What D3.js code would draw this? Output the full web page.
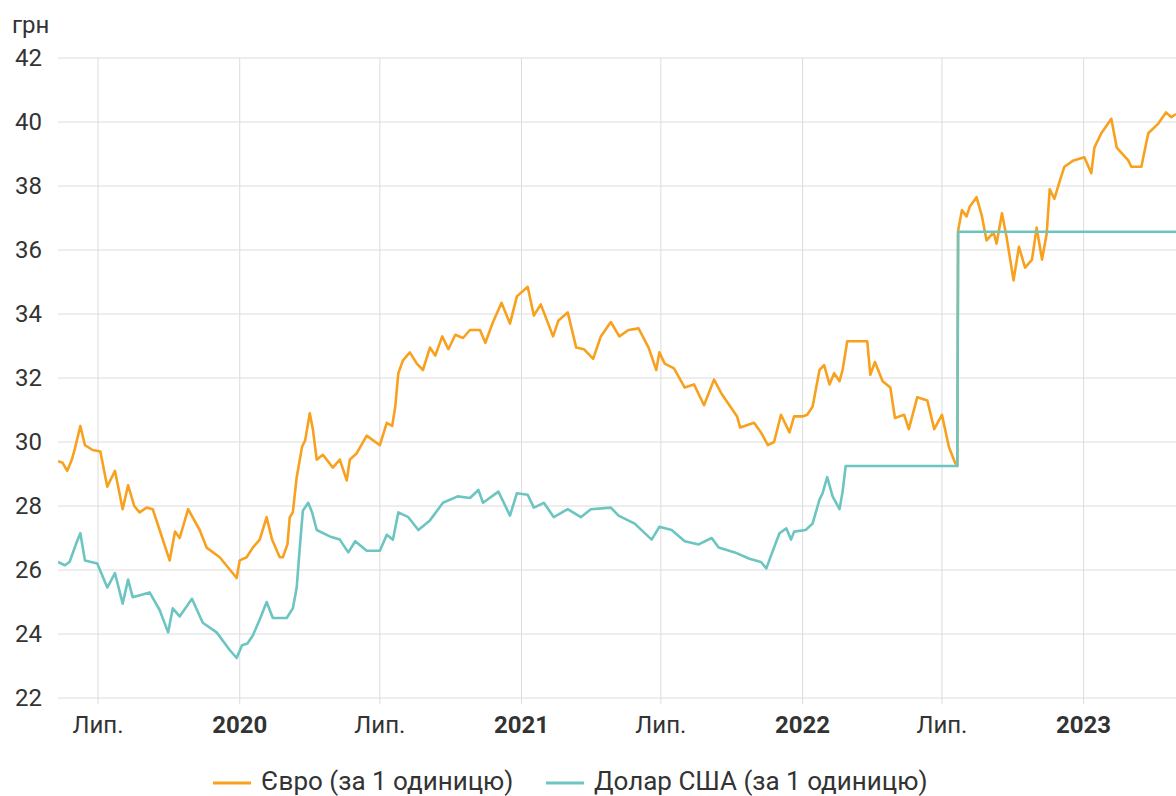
<!DOCTYPE html>
<html>
<head>
<meta charset="utf-8">
<script src="https://cdn.jsdelivr.net/npm/d3@7"></script>
<style>
  body { margin: 0; background: #fff; }
  svg { display: block; font-family: Roboto, "Noto Sans", sans-serif; }
</style>
</head>
<body>
<div id="container"></div>
<script>
const euroSeries = [
    ['2019-05-10', 29.4], ['2019-05-16', 29.35], ['2019-05-22', 29.1], ['2019-05-28', 29.45],
    ['2019-06-01', 29.8], ['2019-06-08', 30.5], ['2019-06-14', 29.9], ['2019-06-24', 29.75],
    ['2019-07-04', 29.7], ['2019-07-13', 28.6], ['2019-07-23', 29.1], ['2019-08-02', 27.9],
    ['2019-08-09', 28.65], ['2019-08-17', 28.0], ['2019-08-24', 27.8], ['2019-09-02', 27.95],
    ['2019-09-10', 27.9], ['2019-09-19', 27.25], ['2019-10-02', 26.3], ['2019-10-09', 27.2],
    ['2019-10-15', 27.0], ['2019-10-26', 27.9], ['2019-11-10', 27.25], ['2019-11-19', 26.7],
    ['2019-12-06', 26.4], ['2019-12-23', 25.9], ['2019-12-28', 25.75], ['2020-01-01', 26.3],
    ['2020-01-10', 26.4], ['2020-01-18', 26.7], ['2020-01-27', 26.95], ['2020-02-05', 27.65],
    ['2020-02-12', 26.95], ['2020-02-22', 26.4], ['2020-02-26', 26.4], ['2020-03-03', 26.8],
    ['2020-03-06', 27.65], ['2020-03-10', 27.8], ['2020-03-15', 28.9], ['2020-03-22', 29.85],
    ['2020-03-26', 30.05], ['2020-04-01', 30.9], ['2020-04-05', 30.4], ['2020-04-10', 29.45],
    ['2020-04-18', 29.6], ['2020-05-01', 29.2], ['2020-05-10', 29.45], ['2020-05-19', 28.8],
    ['2020-05-23', 29.45], ['2020-06-01', 29.65], ['2020-06-14', 30.2], ['2020-07-01', 29.9],
    ['2020-07-10', 30.6], ['2020-07-17', 30.5], ['2020-07-21', 31.1], ['2020-07-25', 32.15],
    ['2020-07-31', 32.55], ['2020-08-09', 32.8], ['2020-08-18', 32.45], ['2020-08-26', 32.25],
    ['2020-09-04', 32.95], ['2020-09-11', 32.7], ['2020-09-20', 33.3], ['2020-09-28', 32.9],
    ['2020-10-07', 33.35], ['2020-10-17', 33.25], ['2020-10-26', 33.5], ['2020-11-08', 33.5],
    ['2020-11-15', 33.1], ['2020-11-25', 33.75], ['2020-12-06', 34.35], ['2020-12-17', 33.7],
    ['2020-12-26', 34.55], ['2021-01-09', 34.85], ['2021-01-17', 33.95], ['2021-01-26', 34.3],
    ['2021-02-11', 33.3], ['2021-02-18', 33.8], ['2021-03-02', 34.05], ['2021-03-13', 32.95],
    ['2021-03-23', 32.9], ['2021-04-04', 32.6], ['2021-04-14', 33.3], ['2021-04-27', 33.75],
    ['2021-05-08', 33.3], ['2021-05-20', 33.5], ['2021-06-02', 33.55], ['2021-06-15', 32.95],
    ['2021-06-25', 32.25], ['2021-06-29', 32.8], ['2021-07-06', 32.45], ['2021-07-18', 32.3],
    ['2021-08-01', 31.7], ['2021-08-13', 31.8], ['2021-08-26', 31.15], ['2021-09-08', 31.95],
    ['2021-09-18', 31.5], ['2021-10-08', 30.8], ['2021-10-12', 30.45], ['2021-10-30', 30.6],
    ['2021-11-08', 30.3], ['2021-11-17', 29.9], ['2021-11-25', 30.0], ['2021-12-04', 30.85],
    ['2021-12-15', 30.3], ['2021-12-21', 30.8], ['2022-01-01', 30.8], ['2022-01-07', 30.85],
    ['2022-01-14', 31.1], ['2022-01-23', 32.25], ['2022-01-29', 32.4], ['2022-02-05', 31.8],
    ['2022-02-11', 32.15], ['2022-02-18', 31.9], ['2022-02-22', 32.25], ['2022-02-28', 33.15],
    ['2022-03-26', 33.15], ['2022-03-30', 32.1], ['2022-04-05', 32.5], ['2022-04-15', 31.9],
    ['2022-04-25', 31.7], ['2022-05-01', 30.75], ['2022-05-13', 30.85], ['2022-05-19', 30.4],
    ['2022-05-30', 31.4], ['2022-06-12', 31.3], ['2022-06-21', 30.4], ['2022-07-01', 30.85],
    ['2022-07-10', 29.85], ['2022-07-18', 29.35], ['2022-07-21', 29.25], ['2022-07-22', 36.6],
    ['2022-07-27', 37.25], ['2022-08-02', 37.05], ['2022-08-06', 37.35], ['2022-08-15', 37.65],
    ['2022-08-22', 37.05], ['2022-08-28', 36.3], ['2022-09-06', 36.55], ['2022-09-10', 36.2],
    ['2022-09-17', 37.15], ['2022-09-23', 36.4], ['2022-10-02', 35.05], ['2022-10-09', 36.1],
    ['2022-10-17', 35.45], ['2022-10-26', 35.7], ['2022-11-01', 36.7], ['2022-11-08', 35.7],
    ['2022-11-14', 36.5], ['2022-11-18', 37.9], ['2022-11-24', 37.6], ['2022-12-01', 38.15],
    ['2022-12-07', 38.6], ['2022-12-19', 38.8], ['2023-01-02', 38.9], ['2023-01-11', 38.4],
    ['2023-01-15', 39.2], ['2023-01-24', 39.65], ['2023-02-06', 40.1], ['2023-02-13', 39.2],
    ['2023-02-28', 38.8], ['2023-03-04', 38.6], ['2023-03-17', 38.6], ['2023-03-26', 39.65],
    ['2023-04-08', 39.95], ['2023-04-18', 40.3], ['2023-04-25', 40.15], ['2023-05-01', 40.25]
];

const usdSeries = [
    ['2019-05-10', 26.25], ['2019-05-19', 26.15], ['2019-05-25', 26.25], ['2019-06-03', 26.85],
    ['2019-06-08', 27.15], ['2019-06-14', 26.3], ['2019-06-30', 26.2], ['2019-07-13', 25.45],
    ['2019-07-23', 25.9], ['2019-08-02', 24.95], ['2019-08-09', 25.7], ['2019-08-15', 25.15],
    ['2019-09-06', 25.3], ['2019-09-19', 24.75], ['2019-09-30', 24.05], ['2019-10-06', 24.8],
    ['2019-10-15', 24.55], ['2019-10-31', 25.1], ['2019-11-14', 24.35], ['2019-12-02', 24.05],
    ['2019-12-19', 23.5], ['2019-12-28', 23.25], ['2020-01-04', 23.65], ['2020-01-11', 23.7],
    ['2020-01-18', 23.95], ['2020-01-27', 24.45], ['2020-02-05', 25.0], ['2020-02-13', 24.5],
    ['2020-03-02', 24.5], ['2020-03-10', 24.8], ['2020-03-15', 25.45], ['2020-03-19', 26.7],
    ['2020-03-23', 27.85], ['2020-03-30', 28.1], ['2020-04-04', 27.8], ['2020-04-10', 27.25],
    ['2020-04-27', 27.05], ['2020-05-10', 26.95], ['2020-05-21', 26.55], ['2020-05-30', 26.9],
    ['2020-06-14', 26.6], ['2020-07-01', 26.6], ['2020-07-10', 27.1], ['2020-07-18', 26.95],
    ['2020-07-25', 27.8], ['2020-08-07', 27.65], ['2020-08-20', 27.25], ['2020-09-04', 27.55],
    ['2020-09-21', 28.1], ['2020-10-10', 28.3], ['2020-10-26', 28.25], ['2020-11-06', 28.5],
    ['2020-11-12', 28.1], ['2020-12-02', 28.45], ['2020-12-17', 27.7], ['2020-12-26', 28.4],
    ['2021-01-09', 28.35], ['2021-01-17', 27.95], ['2021-01-30', 28.1], ['2021-02-12', 27.65],
    ['2021-03-02', 27.9], ['2021-03-19', 27.65], ['2021-04-01', 27.9], ['2021-04-27', 27.95],
    ['2021-05-07', 27.7], ['2021-05-28', 27.45], ['2021-06-19', 26.95], ['2021-06-29', 27.35],
    ['2021-07-15', 27.25], ['2021-08-01', 26.9], ['2021-08-19', 26.8], ['2021-09-05', 27.0],
    ['2021-09-14', 26.7], ['2021-10-05', 26.55], ['2021-10-24', 26.35], ['2021-11-08', 26.25],
    ['2021-11-15', 26.05], ['2021-11-21', 26.45], ['2021-12-02', 27.15], ['2021-12-11', 27.3],
    ['2021-12-17', 26.95], ['2021-12-21', 27.2], ['2022-01-05', 27.25], ['2022-01-14', 27.45],
    ['2022-01-23', 28.2], ['2022-01-27', 28.4], ['2022-02-02', 28.9], ['2022-02-09', 28.3],
    ['2022-02-18', 27.9], ['2022-02-22', 28.45], ['2022-02-26', 29.25], ['2022-07-21', 29.25],
    ['2022-07-22', 36.57], ['2023-05-01', 36.57]
];

const yTicks = [22, 24, 26, 28, 30, 32, 34, 36, 38, 40, 42];
const seriesNames = ['Євро (за 1 одиницю)', 'Долар США (за 1 одиницю)'];
const seriesColors = ['#f7a11f', '#6cc5c1'];

const W = 1176, H = 796;
const margin = { top: 58, right: 0, bottom: 98, left: 58 };

const parse = d3.timeParse('%Y-%m-%d');
const series = [euroSeries, usdSeries].map(s => s.map(([d, v]) => ({ date: parse(d), value: v })));

const svg = d3.select('#container')
    .append('svg')
    .attr('width', W)
    .attr('height', H);

const x = d3.scaleTime()
    .domain([parse('2019-05-10'), parse('2023-05-01')])
    .range([margin.left, W - margin.right]);

const y = d3.scaleLinear()
    .domain([22, 42])
    .range([H - margin.bottom, margin.top]);

// horizontal grid + y labels
svg.append('g')
    .selectAll('line')
    .data(yTicks)
    .join('line')
    .attr('x1', margin.left)
    .attr('x2', W)
    .attr('y1', d => y(d))
    .attr('y2', d => y(d))
    .attr('stroke', '#dcdcdc')
    .attr('stroke-width', 1);

svg.append('g')
    .selectAll('text')
    .data(yTicks)
    .join('text')
    .attr('x', 42)
    .attr('y', d => y(d) + 8)
    .attr('text-anchor', 'end')
    .attr('font-size', 24)
    .attr('fill', '#333')
    .text(d => d);

svg.append('text')
    .attr('x', 12)
    .attr('y', 33)
    .attr('font-size', 24)
    .attr('fill', '#333')
    .text('грн');

// vertical grid every half year
const xTicks = x.ticks(d3.timeMonth.every(6));
svg.append('g')
    .selectAll('line')
    .data(xTicks)
    .join('line')
    .attr('x1', d => x(d))
    .attr('x2', d => x(d))
    .attr('y1', margin.top)
    .attr('y2', H - margin.bottom + 6)
    .attr('stroke', '#dcdcdc')
    .attr('stroke-width', 1);

svg.append('g')
    .selectAll('text')
    .data(xTicks)
    .join('text')
    .attr('x', d => x(d))
    .attr('y', H - margin.bottom + 35)
    .attr('text-anchor', 'middle')
    .attr('font-size', 24)
    .attr('fill', '#333')
    .attr('font-weight', d => d.getMonth() === 0 ? 'bold' : 'normal')
    .text(d => d.getMonth() === 0 ? d.getFullYear() : 'Лип.');

// lines
const line = d3.line()
    .x(d => x(d.date))
    .y(d => y(d.value));

svg.append('clipPath')
    .attr('id', 'plot-clip')
    .append('rect')
    .attr('x', margin.left)
    .attr('y', 0)
    .attr('width', W - margin.left)
    .attr('height', H - margin.bottom + 10);

svg.append('g')
    .attr('clip-path', 'url(#plot-clip)')
    .selectAll('path')
    .data(series)
    .join('path')
    .attr('d', line)
    .attr('fill', 'none')
    .attr('stroke', (d, i) => seriesColors[i])
    .attr('stroke-width', 2.6)
    .attr('stroke-linejoin', 'round');

// legend
const legend = svg.append('g')
    .attr('transform', `translate(0, ${H - 6})`);

const legendX = [213, 546];
seriesNames.forEach((name, i) => {
    legend.append('line')
        .attr('x1', legendX[i])
        .attr('x2', legendX[i] + 38)
        .attr('y1', -7)
        .attr('y2', -7)
        .attr('stroke', seriesColors[i])
        .attr('stroke-width', 3);
    legend.append('text')
        .attr('x', legendX[i] + 48)
        .attr('y', 0)
        .attr('font-size', 26)
        .attr('fill', '#333')
        .text(name);
});
</script>
</body>
</html>
